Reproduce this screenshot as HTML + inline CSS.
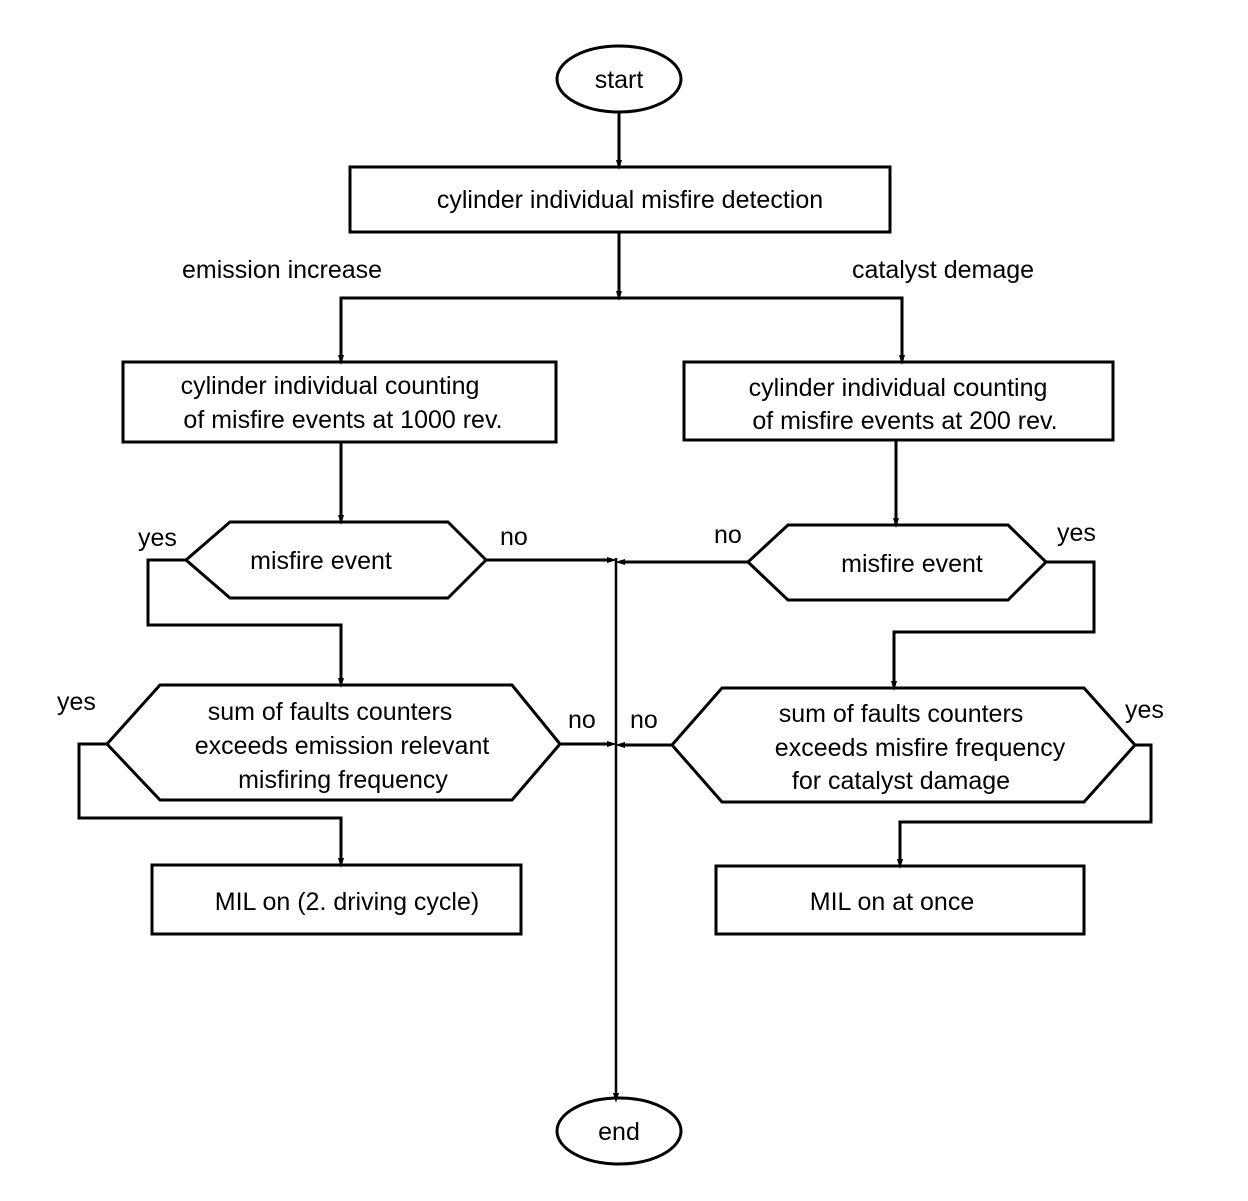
<!DOCTYPE html>
<html><head><meta charset="utf-8"><style>
html,body{margin:0;padding:0;background:#fff}
svg text{font-family:"Liberation Sans",Arial,sans-serif;font-size:25px;fill:#000}
</style></head><body>
<svg width="1248" height="1196" viewBox="0 0 1248 1196" xmlns="http://www.w3.org/2000/svg">
<defs><marker id="a" markerWidth="10" markerHeight="24" refX="10" refY="6" orient="auto" markerUnits="userSpaceOnUse" viewBox="0 0 20 12"><path d="M0,0 L20,6 L0,12 z" fill="#000"/></marker></defs>
<g stroke="#000" stroke-width="3" fill="none">
<ellipse cx="619" cy="79" rx="62" ry="33"/>
<ellipse cx="619" cy="1131" rx="62" ry="33"/>
<rect x="350" y="167" width="540" height="65"/>
<rect x="123" y="362" width="433" height="80"/>
<rect x="684" y="362" width="429" height="78"/>
<rect x="152" y="865" width="369" height="69"/>
<rect x="716" y="866" width="368" height="68"/>
<polygon points="186,560 230,522 448,522 486,560 448,598 230,598"/>
<polygon points="748,562 788,525 1008,525 1046,562 1008,600 788,600"/>
<polygon points="107,744 160,685 512,685 560,744 512,800 160,800"/>
<polygon points="672,745 722,688 1084,688 1135,745 1084,802 722,802"/>
<line x1="619" y1="112" x2="619" y2="165" marker-end="url(#a)"/>
<line x1="619" y1="232" x2="619" y2="296" marker-end="url(#a)"/>
<polyline points="341,362 341,298 902,298 902,360" />
<line x1="341" y1="298" x2="341" y2="360" marker-end="url(#a)"/>
<line x1="902" y1="298" x2="902" y2="360" marker-end="url(#a)"/>
<line x1="341" y1="442" x2="341" y2="520" marker-end="url(#a)"/>
<line x1="896" y1="440" x2="896" y2="523" marker-end="url(#a)"/>
<line x1="486" y1="560" x2="612" y2="560" marker-end="url(#a)"/>
<line x1="748" y1="562" x2="620" y2="562" marker-end="url(#a)"/>
<line x1="616" y1="558" x2="616" y2="1098" stroke-width="2.5" marker-end="url(#a)"/>
<polyline points="186,560 148,560 148,625 341,625 341,683" marker-end="url(#a)"/>
<polyline points="1046,562 1094,562 1094,632 894,632 894,686" marker-end="url(#a)"/>
<line x1="560" y1="744" x2="612" y2="744" marker-end="url(#a)"/>
<line x1="672" y1="745" x2="620" y2="745" marker-end="url(#a)"/>
<polyline points="107,744 79,744 79,818 341,818 341,863" marker-end="url(#a)"/>
<polyline points="1135,745 1151,745 1151,822 900,822 900,864" marker-end="url(#a)"/>
</g>
<g text-anchor="middle">
<text x="619" y="88">start</text>
<text x="619" y="1140">end</text>
<text x="630" y="208">cylinder individual misfire detection</text>
<text x="330" y="394">cylinder individual counting</text>
<text x="343" y="428">of misfire events at 1000 rev.</text>
<text x="898" y="396">cylinder individual counting</text>
<text x="905" y="429">of misfire events at 200 rev.</text>
<text x="321" y="569">misfire event</text>
<text x="912" y="572">misfire event</text>
<text x="330" y="720">sum of faults counters</text>
<text x="342" y="754">exceeds emission relevant</text>
<text x="343" y="788">misfiring frequency</text>
<text x="901" y="722">sum of faults counters</text>
<text x="920" y="756">exceeds misfire frequency</text>
<text x="901" y="789">for catalyst damage</text>
<text x="347" y="910">MIL on (2. driving cycle)</text>
<text x="892" y="910">MIL on at once</text>
</g>
<text x="182" y="278">emission increase</text>
<text x="852" y="278">catalyst demage</text>
<text x="138" y="546">yes</text>
<text x="500" y="545">no</text>
<text x="714" y="543">no</text>
<text x="1057" y="541">yes</text>
<text x="57" y="710">yes</text>
<text x="568" y="728">no</text>
<text x="630" y="728">no</text>
<text x="1125" y="718">yes</text>
</svg>
</body></html>
